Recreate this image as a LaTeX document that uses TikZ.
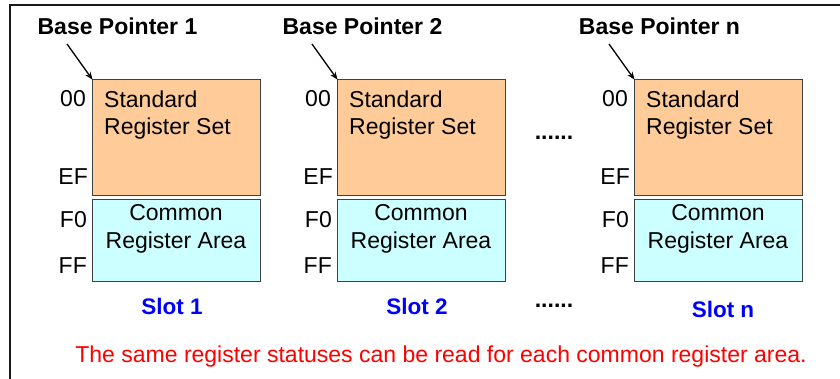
\documentclass[tikz,border=0pt]{standalone}
\usepackage{fontspec}
\setmainfont{Liberation Sans}
\usetikzlibrary{arrows.meta}
\definecolor{stdfill}{HTML}{FFCC99}
\definecolor{comfill}{HTML}{CCFFFF}
\definecolor{slotblue}{HTML}{0000FF}
\definecolor{notered}{HTML}{FF0000}
\tikzset{
  regbox/.style={draw=black!75, line width=1.2pt, minimum width=168pt, inner sep=0pt, anchor=north west},
  stdbox/.style={regbox, fill=stdfill, minimum height=116pt},
  combox/.style={regbox, fill=comfill, minimum height=82pt},
  bplabel/.style={font=\fontsize{23}{27}\selectfont\bfseries, anchor=base, inner sep=0pt},
  addr/.style={font=\fontsize{23}{27}\selectfont, anchor=base east, inner sep=0pt},
  boxtext/.style={font=\fontsize{23}{27.5}\selectfont, inner sep=0pt},
  slotlabel/.style={font=\fontsize{22.5}{27}\selectfont\bfseries, text=slotblue, anchor=base, inner sep=0pt},
  dotsl/.style={font=\fontsize{23}{27}\selectfont\bfseries, anchor=base, inner sep=0pt},
  ptrarrow/.style={-{Stealth[length=8pt,width=6pt]}, line width=1.3pt, shorten >=-1pt},
}
\begin{document}
\begin{tikzpicture}[x=1pt,y=-1pt]
\useasboundingbox (0,0) rectangle (840,379);
\draw[line width=2pt, black!90] (10,385) -- (10,5) -- (845,5);
\foreach \i/\x/\bp/\sl/\sx/\sy in {1/92/{Base Pointer 1}/{Slot 1}/80/314,2/337/{Base Pointer 2}/{Slot 2}/80/314,n/634/{Base Pointer n}/{Slot n}/89/317}{
  \node[stdbox] (std\i) at (\x,79) {};
  \node[combox] (com\i) at (\x,199) {};
  \node[boxtext, anchor=base west, align=left] (stdt\i) at (\x+12,135) {Standard\\Register Set};
  \node[boxtext, anchor=base, align=center] (comt\i) at (\x+84,248) {Common\\Register Area};
  \node[addr] (a00\i) at (\x-6,107) {00};
  \node[addr] (aEF\i) at (\x-4,185) {EF};
  \node[addr] (aF0\i) at (\x-5,228) {F0};
  \node[addr] (aFF\i) at (\x-5,273) {FF};
  \node[bplabel] (bp\i) at (\x+25.5,35) {\bp};
  \node[slotlabel] (slot\i) at (\x+\sx,\sy) {\sl};
  \coordinate (ps\i) at (\x-25,44);
  \draw[ptrarrow] (ps\i) -- (std\i.north west);
}
\node[dotsl] (dotsa) at (554,140) {......};
\node[dotsl] (dotsb) at (554,307) {......};
\node[font=\fontsize{23}{27}\selectfont, text=notered, anchor=base, inner sep=0pt] (note) at (441,362) {The same register statuses can be read for each common register area.};
\end{tikzpicture}
\end{document}
